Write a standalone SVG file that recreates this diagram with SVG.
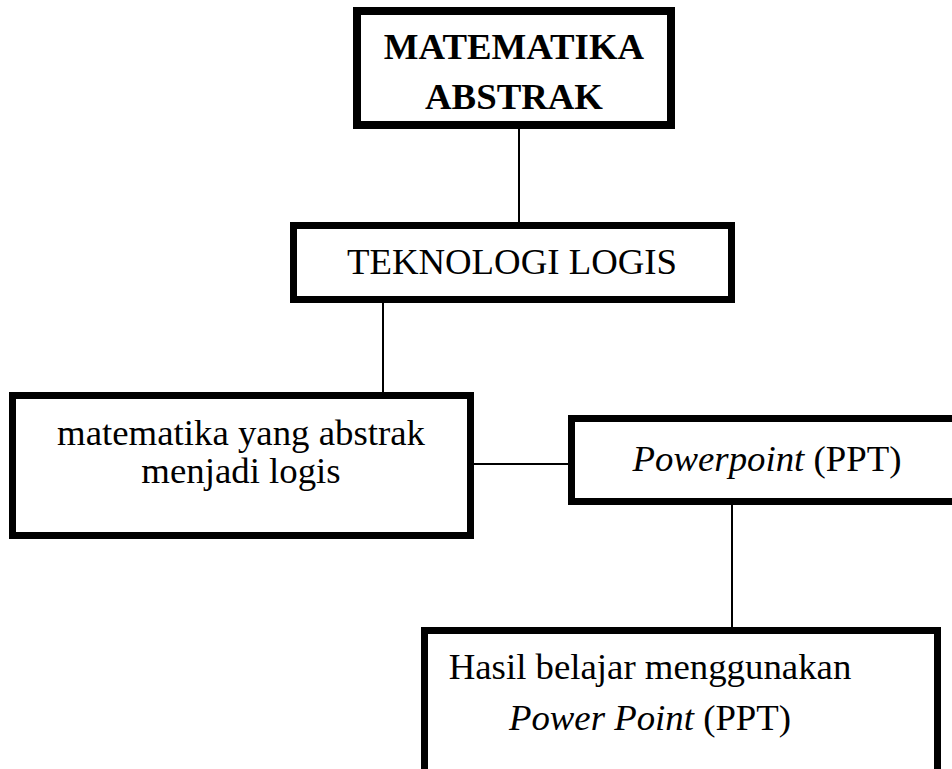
<svg xmlns="http://www.w3.org/2000/svg" width="952" height="769" viewBox="0 0 952 769">
<style>
.box{fill:#fff;stroke:#000;stroke-width:7}
.t{font-family:"Liberation Serif","Times New Roman",serif;font-size:36.8px;fill:#000;text-anchor:middle}
.b{font-weight:bold}
.conn line{stroke:#000;stroke-width:2}
</style>
<rect width="952" height="769" fill="#fff"/>
<g id="connectors" class="conn">
<line x1="519" y1="129" x2="519" y2="222"/>
<line x1="383" y1="303" x2="383" y2="392"/>
<line x1="474" y1="464" x2="568" y2="464"/>
<line x1="732" y1="505" x2="732" y2="627"/>
</g>
<g id="n1">
<rect class="box" x="357" y="11" width="314" height="114" style="stroke-width:8"/>
<text class="t b" x="514" y="59">MATEMATIKA</text>
<text class="t b" x="514" y="109">ABSTRAK</text>
</g>
<g id="n2">
<rect class="box" x="293.5" y="225.5" width="438" height="74"/>
<text class="t" x="512" y="274">TEKNOLOGI LOGIS</text>
</g>
<g id="n3">
<rect class="box" x="12.5" y="395.5" width="458" height="140"/>
<text class="t" x="241" y="445">matematika yang abstrak</text>
<text class="t" x="241" y="483">menjadi logis</text>
</g>
<g id="n4">
<rect class="box" x="571.5" y="418.5" width="391" height="83"/>
<text class="t" x="767" y="471"><tspan font-style="italic">Powerpoint</tspan> (PPT)</text>
</g>
<g id="n5">
<rect class="box" x="424.5" y="630.5" width="513" height="200"/>
<text class="t" x="650" y="679">Hasil belajar menggunakan</text>
<text class="t" x="650" y="730"><tspan font-style="italic">Power Point</tspan> (PPT)</text>
</g>
</svg>
